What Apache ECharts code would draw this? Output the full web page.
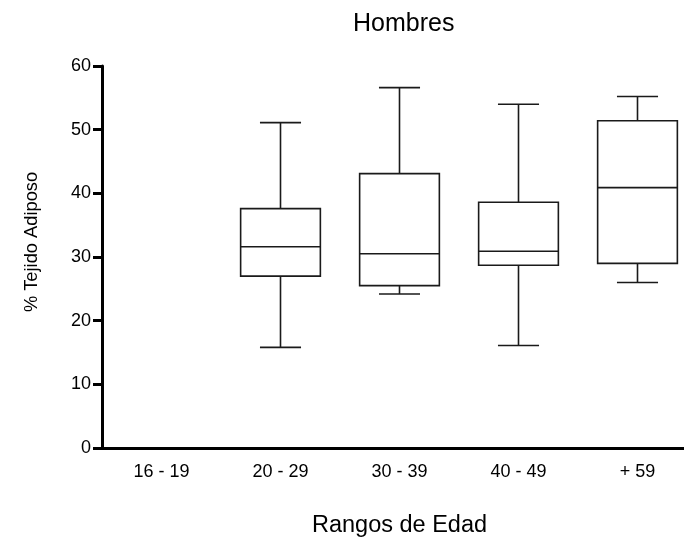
<!DOCTYPE html>
<html>
<head>
<meta charset="utf-8">
<script src="https://cdn.jsdelivr.net/npm/echarts@6/dist/echarts.min.js"></script>
<style>
  html, body { margin: 0; padding: 0; background: #fff; }
  #chart { width: 684px; height: 537px; }
</style>
</head>
<body>
<div id="chart"></div>
<script>
// categorías y valores
var categories = ['16 - 19', '20 - 29', '30 - 39', '40 - 49', '+ 59'];
var minVals    = [null, 15.8, 24.2, 16.1, 26.0];
var q1Vals     = [null, 27.0, 25.5, 28.7, 29.0];
var medianVals = [null, 31.6, 30.5, 30.9, 40.9];
var q3Vals     = [null, 37.6, 43.1, 38.6, 51.4];
var maxVals    = [null, 51.1, 56.6, 54.0, 55.2];
var yTicks = [0, 10, 20, 30, 40, 50, 60];

var font = 'Liberation Sans, Arial, sans-serif';
var chartDom = document.getElementById('chart');
var myChart = echarts.init(chartDom);

// datos del boxplot: [índice, min, q1, mediana, q3, max]
var boxData = [];
categories.forEach(function (c, i) {
  if (minVals[i] == null) return;
  boxData.push([i, minVals[i], q1Vals[i], medianVals[i], q3Vals[i], maxVals[i]]);
});

function renderBox(params, api) {
  var idx = api.value(0);
  var band = api.size([1, 0])[0];
  var boxW = band * 0.67;
  var capW = band * 0.345;
  var pMin = api.coord([idx, api.value(1)]);
  var pQ1 = api.coord([idx, api.value(2)]);
  var pMed = api.coord([idx, api.value(3)]);
  var pQ3 = api.coord([idx, api.value(4)]);
  var pMax = api.coord([idx, api.value(5)]);
  var cx = pMed[0];
  var st = { stroke: '#1a1a1a', lineWidth: 1.6, fill: null };
  return {
    type: 'group',
    children: [
      { type: 'line', shape: { x1: cx, y1: pQ3[1], x2: cx, y2: pMax[1] }, style: st },
      { type: 'line', shape: { x1: cx, y1: pMin[1], x2: cx, y2: pQ1[1] }, style: st },
      { type: 'line', shape: { x1: cx - capW / 2, y1: pMax[1], x2: cx + capW / 2, y2: pMax[1] }, style: st },
      { type: 'line', shape: { x1: cx - capW / 2, y1: pMin[1], x2: cx + capW / 2, y2: pMin[1] }, style: st },
      {
        type: 'rect',
        shape: { x: cx - boxW / 2, y: pQ3[1], width: boxW, height: pQ1[1] - pQ3[1] },
        style: { stroke: '#1a1a1a', lineWidth: 1.6, fill: '#fff' }
      },
      { type: 'line', shape: { x1: cx - boxW / 2, y1: pMed[1], x2: cx + boxW / 2, y2: pMed[1] }, style: st }
    ]
  };
}

var option = {
  backgroundColor: '#fff',
  animation: false,
  title: {
    text: 'Hombres',
    left: 348,
    top: 7,
    textStyle: { fontFamily: font, fontSize: 25, fontWeight: 'normal', color: '#000' }
  },
  // el eje X continúa más allá del borde derecho de la imagen
  grid: { left: 102, width: 595, top: 66, height: 382, outerBoundsMode: 'none', containLabel: false },
  xAxis: {
    type: 'category',
    data: categories,
    name: 'Rangos de Edad',
    nameLocation: 'middle',
    nameGap: 66,
    nameTextStyle: { fontFamily: font, fontSize: 23.5, color: '#000' },
    axisLine: { lineStyle: { color: '#000', width: 3 } },
    axisTick: { alignWithLabel: true, length: 9, lineStyle: { color: '#000', width: 3 } },
    axisLabel: { fontFamily: font, fontSize: 18, color: '#000', margin: 15 },
    splitLine: { show: false }
  },
  yAxis: {
    type: 'value',
    min: yTicks[0],
    max: yTicks[yTicks.length - 1],
    interval: 10,
    name: '% Tejido Adiposo',
    nameLocation: 'middle',
    nameGap: 61,
    nameTextStyle: { fontFamily: font, fontSize: 18.3, color: '#000', padding: [0, 0, 0, 30] },
    axisLine: { show: true, lineStyle: { color: '#000', width: 3 } },
    axisTick: { show: true, length: 9, lineStyle: { color: '#000', width: 3 } },
    axisLabel: { fontFamily: font, fontSize: 18, color: '#000', margin: 11 },
    splitLine: { show: false }
  },
  series: [{
    type: 'custom',
    renderItem: renderBox,
    encode: { x: 0, y: [1, 2, 3, 4, 5] },
    data: boxData,
    z: 3
  }]
};

myChart.setOption(option);
window.addEventListener('resize', function () {
  myChart.resize();
});
</script>
</body>
</html>
